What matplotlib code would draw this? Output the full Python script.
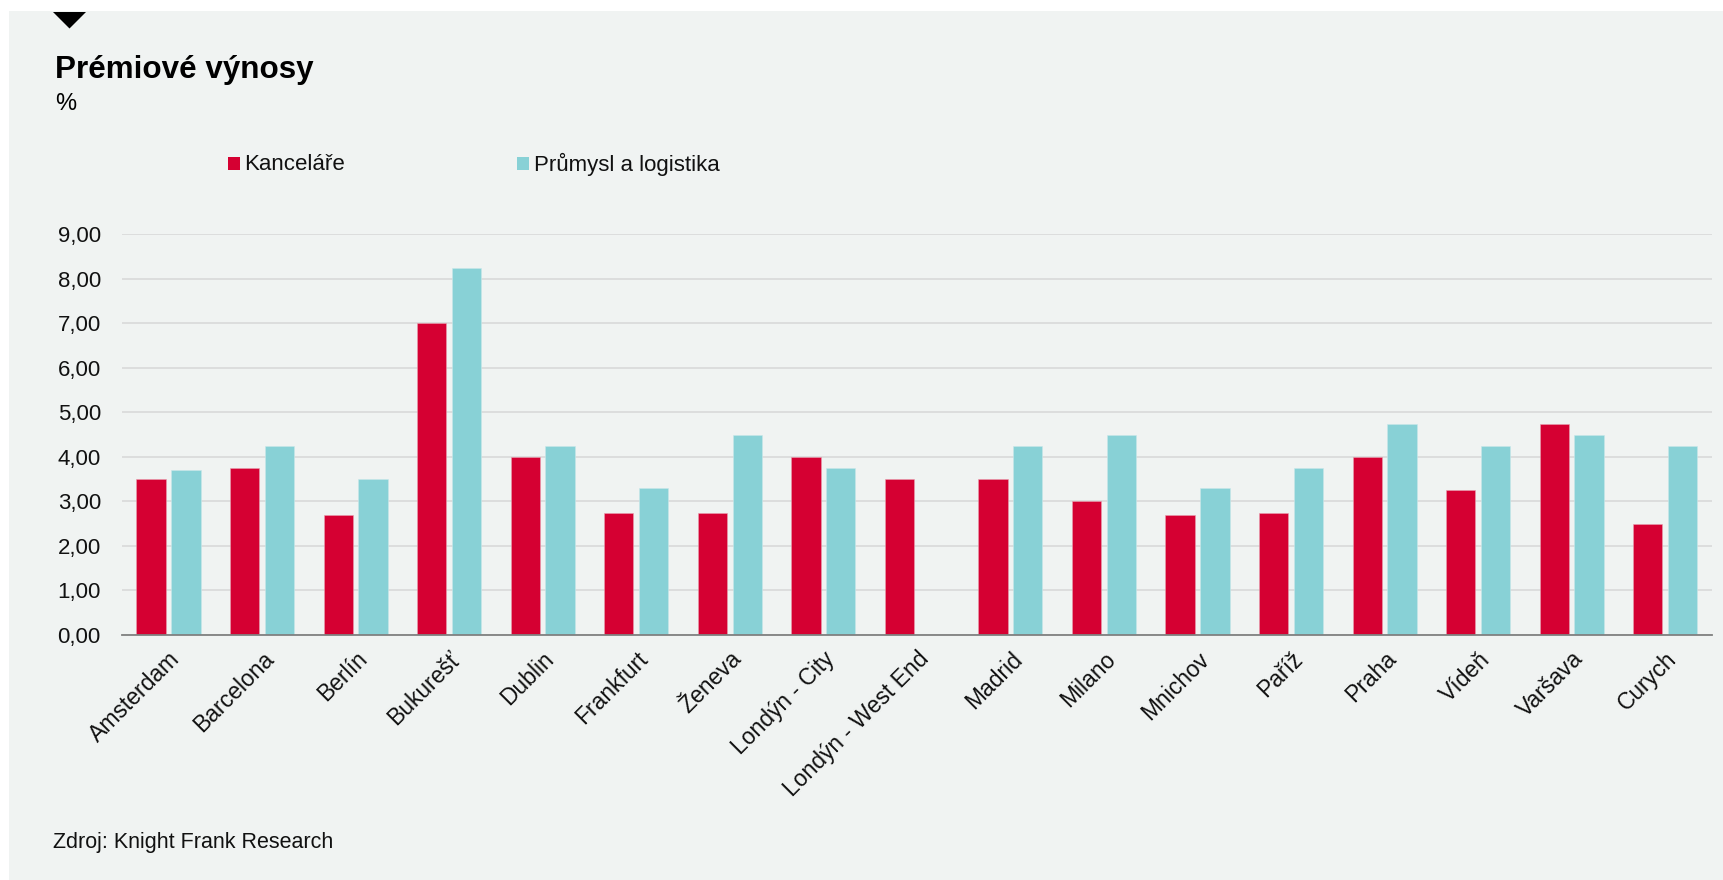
import numpy as np
import matplotlib
matplotlib.use("Agg")
import matplotlib.pyplot as plt
from matplotlib.patches import Rectangle, Polygon
from matplotlib.ticker import FuncFormatter, MultipleLocator

plt.rcParams["font.family"] = ["Liberation Sans", "DejaVu Sans"]

# Prime yields by city (%)
cities = ["Amsterdam", "Barcelona", "Berlín", "Bukurešť", "Dublin", "Frankfurt",
          "Ženeva", "Londýn - City", "Londýn - West End", "Madrid", "Milano",
          "Mnichov", "Paříž", "Praha", "Vídeň", "Varšava", "Curych"]
offices = [3.50, 3.75, 2.70, 7.00, 4.00, 2.75, 2.75, 4.00, 3.50, 3.50, 3.00,
           2.70, 2.75, 4.00, 3.25, 4.75, 2.50]
industrial = [3.70, 4.25, 3.50, 8.25, 4.25, 3.30, 4.50, 3.75, np.nan, 4.25, 4.50,
              3.30, 3.75, 4.75, 4.25, 4.50, 4.25]
series_names = ["Kanceláře", "Průmysl a logistika"]

RED = "#D50032"
TEAL = "#88D1D6"
PANEL = "#F0F3F2"

W, H = 1724, 880
fig = plt.figure(figsize=(W / 100, H / 100), dpi=100)
fig.patch.set_facecolor("white")

# light panel behind the whole chart
fig.add_artist(Rectangle((9 / W, 0), 1 - 9 / W, (H - 11) / H,
                         transform=fig.transFigure, facecolor=PANEL,
                         edgecolor="none", zorder=0))
# small marker triangle at top-left
fig.add_artist(Polygon([(53 / W, 1 - 12 / H), (86 / W, 1 - 12 / H),
                        (69.5 / W, 1 - 28.5 / H)], closed=True,
                       transform=fig.transFigure, facecolor="black",
                       edgecolor="none", zorder=1))

left, right = 121.7 / W, 1712 / W
bottom, top = (H - 635) / H, (H - 234.3) / H
ax = fig.add_axes([left, bottom, right - left, top - bottom])
ax.set_facecolor("none")

x = np.arange(len(cities))
bw = 0.313
off = 0.186
ax.bar(x - off, offices, width=bw, color=RED, edgecolor="#E8A0B0",
       linewidth=0.4, zorder=3, label=series_names[0])
ax.bar(x + off, industrial, width=bw, color=TEAL, edgecolor="#C8E8EA",
       linewidth=0.4, zorder=3, label=series_names[1])

ax.set_xlim(-0.5, len(cities) - 0.5)
ax.set_ylim(0, 9)
ax.yaxis.set_major_locator(MultipleLocator(1))
ax.yaxis.set_major_formatter(FuncFormatter(lambda v, p: f"{v:.2f}".replace(".", ",")))
ax.grid(axis="y", color="#D9D9D9", linewidth=1.2, zorder=0)
ax.set_axisbelow(True)

for s in ["top", "right", "left"]:
    ax.spines[s].set_visible(False)
ax.spines["bottom"].set_color("#808080")
ax.spines["bottom"].set_linewidth(1.3)
ax.spines["bottom"].set_zorder(4)

ax.tick_params(axis="y", length=0, pad=15, labelsize=16, labelcolor="#111111")
ax.tick_params(axis="x", length=0, pad=9, labelsize=16.5, labelcolor="#111111")
ax.set_xticks(x)
ax.set_xticklabels(cities, rotation=45, ha="right", rotation_mode="anchor")

# title block
fig.text(55 / W, 1 - 78 / H, "Prémiové výnosy", fontsize=22.6,
         fontweight="bold", color="black", va="baseline", ha="left")
fig.text(55 / W, 1 - 110 / H, "%", fontsize=17, color="black",
         va="baseline", ha="left")

# legend
for (sx, tx), name, col in zip([(228, 244.5), (517, 534)], series_names, [RED, TEAL]):
    fig.add_artist(Rectangle((sx / W, 1 - 170 / H), 12 / W, 12.5 / H,
                             transform=fig.transFigure, facecolor=col,
                             edgecolor="none"))
    fig.text(tx / W, 1 - 170.5 / H, name, fontsize=16, color="#111111",
             va="baseline", ha="left")

# source note
fig.text(53 / W, 1 - 848 / H, "Zdroj: Knight Frank Research", fontsize=15.5,
         color="#111111", va="baseline", ha="left")

fig.savefig("out.png", dpi=100, facecolor=fig.get_facecolor())
